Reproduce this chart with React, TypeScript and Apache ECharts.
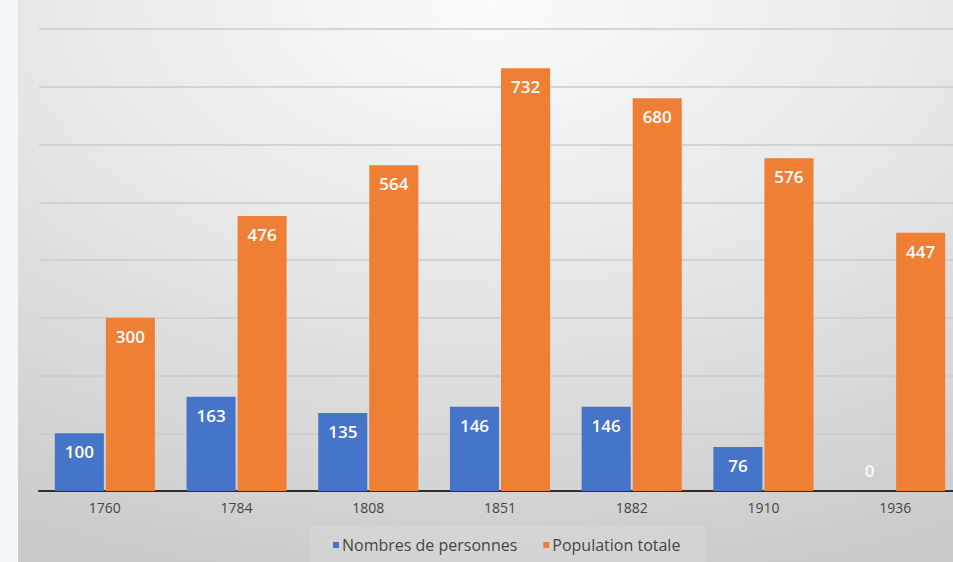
import React, { useEffect, useRef } from "react";
import * as echarts from "echarts";

const categories = ["1760", "1784", "1808", "1851", "1882", "1910", "1936"];
const nombresDePersonnes = [100, 163, 135, 146, 146, 76, 0];
const populationTotale = [300, 476, 564, 732, 680, 576, 447];
const seriesNames = ["Nombres de personnes", "Population totale"];

const BLUE = "#4674c9";
const ORANGE = "#ee7f35";
const FONT = "'Open Sans', 'Noto Sans', sans-serif";

export default function App() {
  const ref = useRef<HTMLDivElement>(null);

  useEffect(() => {
    if (!ref.current) return;
    const chart = echarts.init(ref.current, undefined, { renderer: "svg" });
    const labelStyle = {
      show: true,
      position: "insideTop" as const,
      distance: 10,
      color: "#ffffff",
      fontFamily: FONT,
      fontSize: 17,
      fontWeight: 600,
    };
    chart.setOption({
      animation: false,
      backgroundColor: new echarts.graphic.RadialGradient(0.5, 0.0, 1.05, [
        { offset: 0, color: "#fbfbfb" },
        { offset: 0.45, color: "#e8e8e8" },
        { offset: 1, color: "#cbcbcb" },
      ]),
      grid: { left: 21, right: 7, top: 29, bottom: 71, containLabel: false },
      legend: {
        data: seriesNames,
        left: 292,
        top: 526,
        padding: [11, 25, 11, 23],
        backgroundColor: "rgba(255,255,255,0.12)",
        icon: "rect",
        itemWidth: 6,
        itemHeight: 6,
        itemGap: 26,
        textStyle: { color: "#454545", fontFamily: FONT, fontSize: 16, padding: [0, 0, 0, -2] },
      },
      xAxis: {
        type: "category",
        data: categories,
        axisLine: { show: true, lineStyle: { color: "#2e2e2e", width: 2 } },
        axisTick: { show: false },
        axisLabel: { color: "#454545", fontFamily: FONT, fontSize: 14, margin: 9 },
      },
      yAxis: {
        type: "value",
        min: 0,
        max: 800,
        interval: 100,
        axisLabel: { show: false },
        axisLine: { show: false },
        axisTick: { show: false },
        splitLine: { show: true, lineStyle: { color: "#cbcbcb", width: 1.5 } },
      },
      series: [
        {
          name: seriesNames[0],
          type: "bar",
          data: nombresDePersonnes.map((v) =>
            v === 0
              ? { value: v, label: { position: "top", distance: 12, color: "rgba(255,255,255,0.9)" } }
              : v
          ),
          itemStyle: { color: BLUE },
          barGap: "4%",
          barCategoryGap: "24%",
          label: labelStyle,
        },
        {
          name: seriesNames[1],
          type: "bar",
          data: populationTotale,
          itemStyle: { color: ORANGE },
          barGap: "4%",
          barCategoryGap: "24%",
          label: labelStyle,
        },
      ],
    });
    return () => chart.dispose();
  }, []);

  return (
    <div
      style={{
        position: "fixed",
        left: 0,
        top: 0,
        width: 953,
        height: 562,
        overflow: "hidden",
        background: "#f3f6fa",
      }}
    >
      <div ref={ref} style={{ position: "absolute", left: 18, top: 0, width: 950, height: 562 }} />
    </div>
  );
}
